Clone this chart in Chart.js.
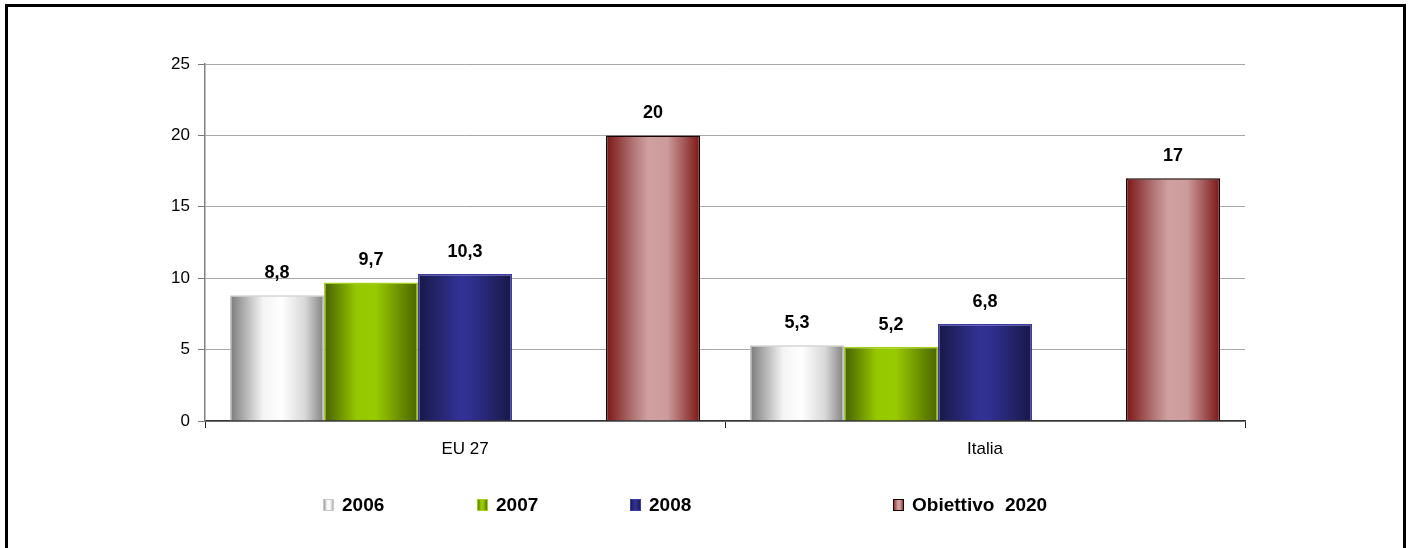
<!DOCTYPE html>
<html>
<head>
<meta charset="utf-8">
<script src="https://cdn.jsdelivr.net/npm/chart.js@4.4.1/dist/chart.umd.min.js"></script>
<style>
html, body { margin: 0; padding: 0; background: #fff; overflow: hidden; }
#wrap { position: relative; width: 1408px; height: 548px; }
#chart { position: absolute; left: 0; top: 0; }
#frame { position: absolute; left: 5px; top: 4px; width: 1401px; height: 620px; border: 3px solid #000; box-sizing: border-box; pointer-events: none; }
</style>
</head>
<body>
<div id="wrap">
    <canvas id="chart" width="1408" height="548"></canvas>
    <div id="frame"></div>
</div>
<script>
//Categories
const categories = ["EU 27", "Italia"];

//Series names (the blank one is the empty slot before the 2020 target)
const seriesNames = ["2006", "2007", "2008", "", "Obiettivo  2020"];

//Series values
const values2006 = [8.8, 5.3];
const values2007 = [9.7, 5.2];
const values2008 = [10.3, 6.8];
const valuesEmpty = [null, null];
const valuesTarget = [20, 17];

//Y axis tick labels
const yTicks = [0, 5, 10, 15, 20, 25];

//Cylinder shading for each series
const shades = [
    { border: "#c8c8c8", stops: [[0, "#7a7a7a"], [0.35, "#f4f4f4"], [0.55, "#ffffff"], [0.8, "#d8d8d8"], [1, "#808080"]] },
    { border: "#a6d01a", stops: [[0, "#466000"], [0.35, "#96c800"], [0.55, "#98ca00"], [1, "#4a6400"]] },
    { border: "#3a3aa8", stops: [[0, "#181848"], [0.45, "#323296"], [0.55, "#303090"], [1, "#181848"]] },
    { border: "#000000", stops: [[0, "#ffffff"], [1, "#ffffff"]] },
    { border: "#1a0000", stops: [[0, "#7c1515"], [0.3, "#b27878"], [0.45, "#d0a0a0"], [0.65, "#cc9c9c"], [1, "#7c1515"]] }
];

const fontFamily = "'Liberation Sans', Arial, sans-serif";

function makeGradient(ctx, left, right, stops) {

    const g = ctx.createLinearGradient(left, 0, right, 0);
    stops.forEach(s => g.addColorStop(s[0], s[1]));
    return g;

}

//Paint the bars with horizontal gradients
const barShading = {

    id: "barShading",

    beforeDatasetsDraw(chart) {

        chart.data.datasets.forEach((ds, i) => {

            const meta = chart.getDatasetMeta(i);

            meta.data.forEach(bar => {

                if (!bar.options) return;

                bar.options.backgroundColor =
                    makeGradient(chart.ctx, bar.x - bar.width / 2, bar.x + bar.width / 2, shades[i].stops);

            });

        });

    }

};

//Value labels above bars
const valueLabels = {

    id: "valueLabels",

    afterDatasetsDraw(chart) {

        const ctx = chart.ctx;
        ctx.save();
        ctx.font = "bold 18px " + fontFamily;
        ctx.fillStyle = "#000";
        ctx.textAlign = "center";
        ctx.textBaseline = "middle";

        chart.data.datasets.forEach((ds, i) => {

            const meta = chart.getDatasetMeta(i);

            meta.data.forEach((bar, j) => {

                const v = ds.data[j];
                if (v === null || v === undefined) return;
                ctx.fillText(String(v).replace(".", ","), bar.x, bar.y - 22);

            });

        });

        ctx.restore();

    }

};

//Legend row at the bottom
const bottomLegend = {

    id: "bottomLegend",

    afterDraw(chart) {

        const ctx = chart.ctx;
        const xs = [323, 477, 630, 893];
        const yMid = 505;
        let k = 0;

        ctx.save();
        ctx.font = "bold 19px " + fontFamily;
        ctx.textBaseline = "middle";
        ctx.textAlign = "left";

        chart.data.datasets.forEach((ds, i) => {

            if (!ds.label) return;

            const x = xs[k++];
            ctx.fillStyle = makeGradient(ctx, x, x + 11, shades[i].stops);
            ctx.fillRect(x, yMid - 6, 11, 12);
            ctx.strokeStyle = shades[i].border;
            ctx.lineWidth = 1;
            ctx.strokeRect(x + 0.5, yMid - 5.5, 10, 11);

            ctx.fillStyle = "#000";
            ctx.fillText(ds.label, x + 19, yMid + 1);

        });

        ctx.restore();

    }

};

const allValues = [values2006, values2007, values2008, valuesEmpty, valuesTarget];

new Chart(document.querySelector("#chart"), {

    type: "bar",

    data: {

        labels: categories,

        datasets: allValues.map((vals, i) => ({

            label: seriesNames[i],
            data: vals,
            backgroundColor: c => shades[c.datasetIndex].border,
            borderColor: shades[i].border,
            borderWidth: 1.5,
            borderSkipped: "bottom",
            categoryPercentage: 0.904,
            barPercentage: 1

        }))

    },

    plugins: [barShading, valueLabels, bottomLegend],

    options: {

        responsive: false,
        animation: false,
        events: [],

        layout: {

            padding: { top: 64, right: 163, bottom: 0, left: 0 }

        },

        plugins: {

            legend: { display: false },
            tooltip: { enabled: false }

        },

        scales: {

            x: {

                grid: {

                    offset: true,
                    drawOnChartArea: false,
                    drawTicks: true,
                    tickLength: 7,
                    tickColor: "#222"

                },

                border: { color: "#333", width: 1.5 },

                ticks: {

                    color: "#000",
                    padding: 11,
                    font: { family: fontFamily, size: 17 }

                },

                afterFit: scale => { scale.height = 127; }

            },

            y: {

                min: 0,
                max: 25,

                afterBuildTicks: scale => {

                    scale.ticks = yTicks.map(v => ({ value: v }));

                },

                grid: {

                    color: "#a8a8a8",
                    tickColor: "#777",
                    tickLength: 7,
                    lineWidth: 1

                },

                border: { color: "#808080", width: 1.5 },

                ticks: {

                    color: "#000",
                    padding: 8,
                    font: { family: fontFamily, size: 17 }

                },

                afterFit: scale => { scale.width = 205; }

            }

        }

    }

});
</script>
</body>
</html>
